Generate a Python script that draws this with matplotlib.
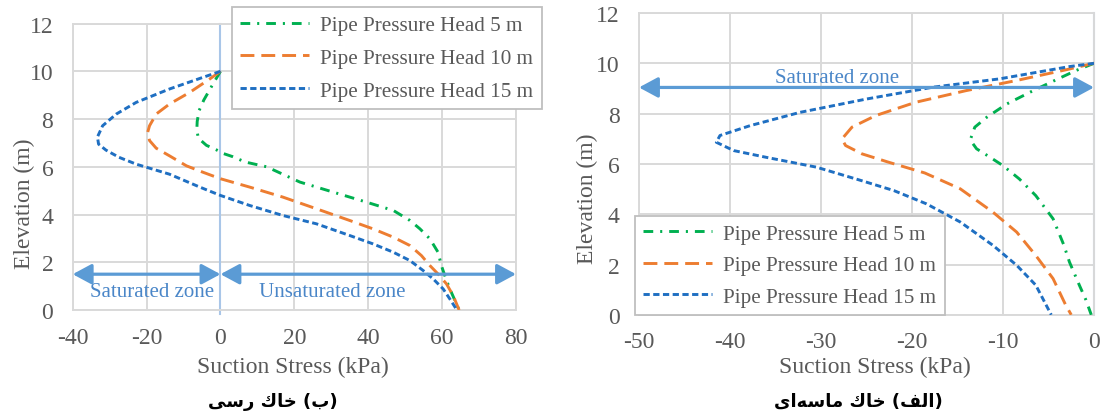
import matplotlib
matplotlib.use("Agg")
import matplotlib.pyplot as plt

# ---------------- data ----------------
series_labels = ["Pipe Pressure Head 5 m", "Pipe Pressure Head 10 m", "Pipe Pressure Head 15 m"]

# clay soil (left panel): suction stress (kPa) vs elevation (m)
clay_stress_5 = [0, -2.1, -4.5, -5.8, -6.3, -6.4, -6.0, -3.8, -1.1, 0.9, 3.4, 6.7, 12.5, 21.5,
                 30.5, 39.5, 46.8, 51.3, 54.0, 56.7, 58.9, 59.8, 61.2, 62.5, 64.6]
clay_elev_5 = [10, 9.45, 8.80, 8.35, 7.90, 7.55, 7.20, 6.90, 6.71, 6.55, 6.42, 6.20, 6.00, 5.36,
               4.94, 4.52, 4.17, 3.75, 3.40, 2.98, 2.42, 1.86, 1.23, 0.74, 0.0]
clay_stress_10 = [0, -2.9, -8.3, -13.8, -17.4, -19.2, -19.7, -19.2, -17.4, -13.8, -9.2, -4.7, 0,
                  7.9, 16.9, 26.0, 35.0, 41.3, 46.8, 51.3, 54.4, 56.7, 58.9, 61.2, 63.0, 64.6]
clay_elev_10 = [10, 9.68, 9.12, 8.63, 8.21, 7.72, 7.45, 7.10, 6.78, 6.46, 6.04, 5.77, 5.50,
                5.15, 4.73, 4.24, 3.75, 3.40, 3.05, 2.70, 2.28, 1.86, 1.51, 1.09, 0.60, 0.0]
clay_stress_15 = [0, -4.7, -13.8, -22.8, -28.2, -31.9, -33.3, -33.0, -31.0, -27.5, -22.8, -13.8,
                  -5.6, 0, 7.9, 16.9, 26.0, 35.0, 41.3, 46.8, 51.3, 54.9, 57.6, 60.3, 62.1, 64.0]
clay_elev_15 = [10, 9.75, 9.26, 8.70, 8.21, 7.72, 7.25, 6.95, 6.70, 6.40, 6.11, 5.69,
                5.15, 4.80, 4.38, 3.96, 3.61, 3.12, 2.77, 2.42, 2.07, 1.65, 1.30, 0.88, 0.46, 0.0]

# sandy soil (right panel)
sand_stress_5 = [0, -2.0, -3.6, -6.7, -9.6, -11.8, -13.1, -13.6, -12.9, -11.4, -10.0, -8.2, -6.4,
                 -4.5, -3.3, -2.7, -1.6, -0.9, -0.3]
sand_elev_5 = [10, 9.71, 9.44, 8.91, 8.38, 7.85, 7.46, 6.95, 6.60, 6.26, 5.93, 5.40, 4.74,
               3.82, 2.76, 2.10, 1.17, 0.60, 0.0]
sand_stress_10 = [0, -3.1, -8.6, -14.1, -19.6, -24.0, -26.6, -27.7, -27.3, -25.5, -22.6, -18.6,
                  -14.7, -11.1, -8.5, -6.4, -4.5, -3.1, -2.5]
sand_elev_10 = [10, 9.74, 9.31, 8.91, 8.45, 7.92, 7.46, 6.99, 6.73, 6.40, 6.07, 5.64,
                5.01, 4.08, 3.29, 2.36, 1.44, 0.38, 0.0]
sand_stress_15 = [0, -2.7, -10.4, -17.7, -25.0, -32.3, -37.8, -41.1, -41.5, -39.6, -36.0, -30.5,
                  -25.6, -22.0, -18.4, -14.7, -11.1, -8.5, -6.4, -4.7]
sand_elev_15 = [10, 9.87, 9.38, 9.05, 8.58, 8.05, 7.52, 7.13, 6.86, 6.53, 6.26, 5.87,
                5.34, 4.94, 4.41, 3.69, 2.76, 1.97, 1.18, 0.0]

clay_xticks = [-40, -20, 0, 20, 40, 60, 80]
sand_xticks = [-50, -40, -30, -20, -10, 0]
yticks = [0, 2, 4, 6, 8, 10, 12]

caption_clay = "(ب) خاك رسی"
caption_sand = "(الف) خاك ماسه\u200cای"

# ---------------- styles ----------------
plt.rcParams["font.family"] = ["Liberation Serif", "DejaVu Serif"]
plt.rcParams["lines.scale_dashes"] = False
plt.rcParams["axes.unicode_minus"] = False

colors = ["#00b050", "#ed7d31", "#1f6fc2"]
dashes = [(0, (7, 5, 1.5, 5)), (0, (10, 5)), (0, (4.5, 2.5))]
grid_c = "#d9d9d9"
text_c = "#595959"
arrow_c = "#5b9bd5"
zone_c = "#4a86c8"
zero_c = "#a9c6e8"

# Arabic presentation forms: isolated, final, initial, medial
FORMS = {
    "ا": ("\uFE8D", "\uFE8E", None, None),
    "ر": ("\uFEAD", "\uFEAE", None, None),
    "ب": ("\uFE8F", "\uFE90", "\uFE91", "\uFE92"),
    "خ": ("\uFEA5", "\uFEA6", "\uFEA7", "\uFEA8"),
    "ك": ("\uFED9", "\uFEDA", "\uFEDB", "\uFEDC"),
    "س": ("\uFEB1", "\uFEB2", "\uFEB3", "\uFEB4"),
    "ی": ("\uFBFC", "\uFBFD", "\uFBFE", "\uFBFF"),
    "ل": ("\uFEDD", "\uFEDE", "\uFEDF", "\uFEE0"),
    "ف": ("\uFED1", "\uFED2", "\uFED3", "\uFED4"),
    "م": ("\uFEE1", "\uFEE2", "\uFEE3", "\uFEE4"),
    "ه": ("\uFEE9", "\uFEEA", "\uFEEB", "\uFEEC"),
}
MIRROR = {"(": ")", ")": "("}


def shape_rtl(text):
    """Pick contextual letter forms and return the string in visual order."""
    out = []
    for i, ch in enumerate(text):
        if ch not in FORMS:
            out.append(ch)
            continue
        iso, fin, ini, med = FORMS[ch]
        prev = text[i - 1] if i > 0 else None
        nxt = text[i + 1] if i + 1 < len(text) else None
        jp = prev in FORMS and FORMS[prev][2] is not None
        jn = ini is not None and nxt in FORMS
        if jp and jn:
            out.append(med)
        elif jp:
            out.append(fin)
        elif jn:
            out.append(ini)
        else:
            out.append(iso)
    out = [c for c in out if c != "\u200c"]
    return "".join(MIRROR.get(c, c) for c in reversed(out))


W, H = 1100, 414
fig = plt.figure(figsize=(W / 100, H / 100), dpi=100)


def px_axes(x0, y0, x1, y1):
    return fig.add_axes([x0 / W, 1 - y1 / H, (x1 - x0) / W, (y1 - y0) / H])


def style_axes(ax, xlim, xticks):
    ax.set_xlim(*xlim)
    ax.set_ylim(0, 12)
    ax.set_xticks(xticks)
    ax.set_yticks(yticks)
    ax.grid(True, color=grid_c, lw=1.4, zorder=0)
    ax.set_axisbelow(True)
    for s in ax.spines.values():
        s.set_color(grid_c)
        s.set_linewidth(1.4)
    ax.tick_params(axis="both", length=0, labelsize=17, labelcolor=text_c)
    ax.tick_params(axis="y", pad=14)
    ax.tick_params(axis="x", pad=12)
    ax.set_xlabel("Suction Stress (kPa)", fontsize=17, color=text_c)
    ax.set_ylabel("Elevation (m)", fontsize=17, color=text_c)


def draw_arrow(ax, x0, x1, y):
    ax.annotate("", xy=(x1, y), xytext=(x0, y), annotation_clip=False,
                arrowprops=dict(arrowstyle="<|-|>,head_length=1.15,head_width=0.62",
                                mutation_scale=10, color=arrow_c, lw=2.3,
                                shrinkA=0, shrinkB=0), zorder=4)


def make_legend(ax, loc, anchor, spacing):
    leg = ax.legend(loc=loc, bbox_to_anchor=anchor, bbox_transform=fig.transFigure,
                    fontsize=15.2, frameon=True, fancybox=False, framealpha=1,
                    edgecolor="#bfbfbf", handlelength=3.27, handletextpad=0.5,
                    labelspacing=spacing, borderpad=0.4, borderaxespad=0)
    leg.get_frame().set_linewidth(1.3)
    for t in leg.get_texts():
        t.set_color(text_c)
    return leg


# ---------------- clay panel ----------------
ax1 = px_axes(72.7, 24.6, 516, 311)
style_axes(ax1, (-40, 80), clay_xticks)
ax1.plot([0, 0], [-0.15, 12], color=zero_c, lw=1.5, zorder=2, clip_on=False)
clay = [(clay_stress_5, clay_elev_5), (clay_stress_10, clay_elev_10), (clay_stress_15, clay_elev_15)]
for (xs, ys), c, d, lab in zip(clay, colors, dashes, series_labels):
    ax1.plot(xs, ys, color=c, lw=2.1, linestyle=d, label=lab, zorder=3)
draw_arrow(ax1, -40, 0, 1.5)
draw_arrow(ax1, 0, 80, 1.5)
ax1.text(-18.5, 0.77, "Saturated zone", color=zone_c, fontsize=15, ha="center", va="center")
ax1.text(30.3, 0.77, "Unsaturated zone", color=zone_c, fontsize=15, ha="center", va="center")
ax1.xaxis.set_label_coords(0.496, -0.16)
ax1.yaxis.set_label_coords(-0.085, 0.374)
make_legend(ax1, "upper left", (232 / W, 1 - 7.7 / H), 0.62)

# ---------------- sand panel ----------------
ax2 = px_axes(639, 14, 1094, 315.8)
style_axes(ax2, (-50, 0), sand_xticks)
ax2.plot([0, 0], [0, 12], color=zero_c, lw=1.5, zorder=2, clip_on=False)
sand = [(sand_stress_5, sand_elev_5), (sand_stress_10, sand_elev_10), (sand_stress_15, sand_elev_15)]
for (xs, ys), c, d, lab in zip(sand, colors, dashes, series_labels):
    ax2.plot(xs, ys, color=c, lw=2.1, linestyle=d, label=lab, zorder=3)
draw_arrow(ax2, -50, 0, 9.04)
ax2.text(-28.2, 9.44, "Saturated zone", color=zone_c, fontsize=15, ha="center", va="center")
ax2.xaxis.set_label_coords(0.518, -0.137)
ax2.yaxis.set_label_coords(-0.089, 0.387)
make_legend(ax2, "lower left", (635 / W, 1 - 316 / H), 0.55)

# ---------------- captions ----------------
fig.text(273 / W, 1 - 402 / H, shape_rtl(caption_clay), fontsize=13, fontweight="bold",
         family=["DejaVu Sans"], ha="center", va="center", color="black")
fig.text(858 / W, 1 - 402 / H, shape_rtl(caption_sand), fontsize=13, fontweight="bold",
         family=["DejaVu Sans"], ha="center", va="center", color="black")

fig.savefig("out.png", dpi=100)
